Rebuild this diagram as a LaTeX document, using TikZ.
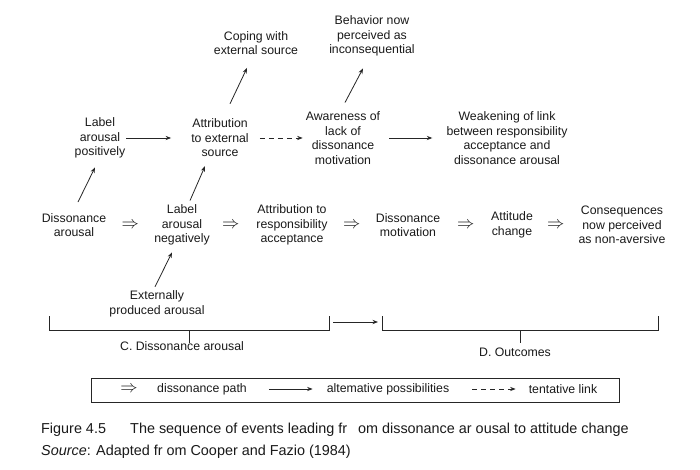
\documentclass[tikz,border=0pt]{standalone}
\usepackage{fontspec}
\setmainfont{Liberation Sans}
\usetikzlibrary{arrows.meta}
\definecolor{txt}{HTML}{1A1A1A}
\definecolor{ln}{HTML}{262626}
\begin{document}
\begin{tikzpicture}[x=1pt,y=-1pt,
  lbl/.style={align=center, inner sep=0pt, font=\fontsize{12.3}{14.5}\selectfont, text=txt},
  alt/.style={draw=ln, line width=0.8pt, -{Stealth[length=5.5pt,width=4.2pt]}},
  tent/.style={alt, dash pattern=on 5pt off 4pt},
  dpath/.style={inner sep=0pt, font=\fontsize{17}{17}\selectfont, text=txt},
  brk/.style={draw=ln, line width=0.8pt},
  captext/.style={anchor=base west, inner sep=0pt, font=\fontsize{14.4}{16}\selectfont, text=txt}
]
\fill[white] (0,0) rectangle (700,470);
\useasboundingbox (0,0) rectangle (700,470);

% upper row
\node[lbl] (cope)  at (256,43) {Coping with\\external source};
\node[lbl] (behav) at (372,36) {Behavior now\\perceived as\\inconsequential};
\node[lbl] (lpos)  at (100,138) {Label\\arousal\\positively};
\node[lbl] (aext)  at (220,138) {Attribution\\to external\\source};
\node[lbl] (aware) at (343,138) {Awareness of\\lack of\\dissonance\\motivation};
\node[lbl] (weak)  at (507,138) {Weakening of link\\between responsibility\\acceptance and\\dissonance arousal};

% main row
\node[lbl] (da)    at (74,225)  {Dissonance\\arousal};
\node[lbl] (lneg)  at (182,225) {Label\\arousal\\negatively};
\node[lbl] (aresp) at (292,225) {Attribution to\\responsibility\\acceptance};
\node[lbl] (dmot)  at (408,225) {Dissonance\\motivation};
\node[lbl] (att)   at (512,225) {Attitude\\change};
\node[lbl] (cons)  at (622,225) {Consequences\\now perceived\\as non-aversive};
\node[lbl] (ext)   at (157,304) {Externally\\produced arousal};

% dissonance path
\path (da.east) -- node[dpath] {$\Rightarrow$} (lneg.west);
\path (lneg.east) -- node[dpath, pos=0.45] {$\Rightarrow$} (aresp.west);
\path (aresp.east) -- node[dpath] {$\Rightarrow$} (dmot.west);
\path (dmot.east) -- node[dpath] {$\Rightarrow$} (att.west);
\path (att.east) -- node[dpath] {$\Rightarrow$} (cons.west);

% alternative possibilities
\draw[alt] ([xshift=4pt,yshift=11pt]da.north) -- ([xshift=-5pt,yshift=-9pt]lpos.south);
\draw[alt] ([xshift=8pt,yshift=4pt]lneg.north) -- ([xshift=-15pt,yshift=-9pt]aext.south);
\draw[alt] ([xshift=-2pt,yshift=4pt]ext.north) -- ([xshift=-10pt,yshift=-7pt]lneg.south);
\draw[alt] ([xshift=10pt,yshift=15pt]aext.north) -- ([xshift=-9pt,yshift=-13pt]cope.south);
\draw[alt] ([xshift=2pt,yshift=9pt]aware.north) -- ([xshift=-9pt,yshift=-12pt]behav.south);
\draw[alt, shorten <=1pt, shorten >=20pt] (lpos.east) -- (aext.west);
\draw[tent, shorten <=11pt, shorten >=3pt] (aext.east) -- (aware.west);
\draw[alt, shorten <=9pt, shorten >=14pt] (aware.east) -- (weak.west);

% brackets
\draw[brk] (49,316) -- (49,330) -- (329,330) -- (329,316);
\draw[brk] (189,330) -- (189,343);
\draw[brk] (382,316) -- (382,330) -- (658,330) -- (658,316);
\draw[brk] (520,330) -- (520,343);
\coordinate (cend) at (333,322);
\coordinate (dstart) at (378,322);
\draw[alt] (cend) -- (dstart);
\node[lbl] (clab) at (182,346) {C. Dissonance arousal};
\node[lbl] (dlab) at (515,352) {D. Outcomes};

% legend
\draw[brk] (91,378) rectangle (619,402);
\node[dpath] (l1) at (129,389) {$\Rightarrow$};
\node[lbl] (l2) at (202,389) {dissonance path};
\node[lbl] (l3) at (388,389) {altemative possibilities};
\node[lbl] (l4) at (563,389) {tentative link};
\draw[alt, shorten <=22pt, shorten >=14pt] (l2.east) -- (l3.west);
\draw[tent, shorten <=23pt, shorten >=13pt] (l3.east) -- (l4.west);

% caption
\node[captext] (fig) at (41,433) {Figure 4.5};
\node[captext] (title) at (130,433) {The sequence of events leading fr\hspace{11pt}om dissonance ar ousal to attitude change};
\node[captext] (src) at (41,455) {\textit{Source}: Adapted fr om Cooper and Fazio (1984)};
\end{tikzpicture}
\end{document}
